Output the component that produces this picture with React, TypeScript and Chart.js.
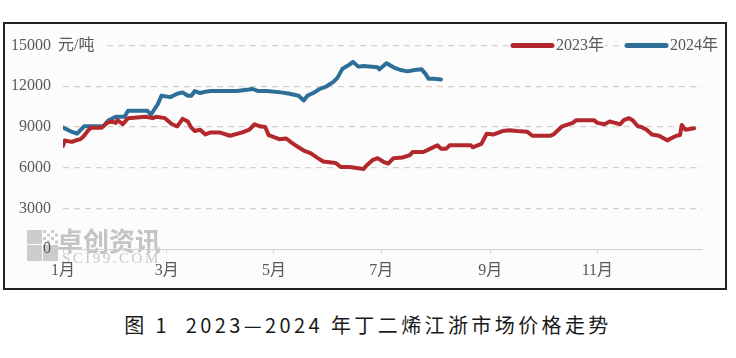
import React, { useEffect, useRef } from "react";
import { Chart, registerables } from "chart.js";

Chart.register(...registerables);

// ---- data ----
const monthTickDays = [0, 59, 120, 181, 243, 304];
const monthTickLabels = ["1月", "3月", "5月", "7月", "9月", "11月"];
const yTickValues = [0, 3000, 6000, 9000, 12000, 15000];
const seriesNames = ["2023年", "2024年"];
const unitLabel = "元/吨";
const captionText = "图 1  2023—2024 年丁二烯江浙市场价格走势";

const days2023 = [0, 1, 5, 7, 10, 12, 14, 16, 22, 25, 28, 30, 31, 34, 37, 47, 51, 53, 58, 62, 65, 68, 71, 73, 75, 78, 81, 84, 89, 95, 102, 106, 109, 112, 115, 117, 123, 127, 130, 134, 137, 141, 145, 148, 155, 158, 163, 171, 173, 176, 179, 182, 185, 188, 193, 197, 199, 205, 209, 213, 215, 218, 220, 232, 233, 238, 241, 245, 250, 254, 258, 264, 267, 277, 279, 284, 290, 292, 302, 304, 308, 311, 314, 317, 319, 322, 324, 327, 329, 332, 335, 339, 344, 345, 349, 351, 352, 354, 359];
const prices2023 = [7600, 8000, 7900, 8000, 8100, 8350, 8700, 8950, 8950, 9300, 9400, 9300, 9500, 9200, 9650, 9750, 9650, 9750, 9650, 9200, 9050, 9600, 9400, 8950, 8700, 8800, 8450, 8600, 8600, 8350, 8600, 8800, 9200, 9050, 9000, 8400, 8100, 8150, 7850, 7500, 7250, 7050, 6700, 6450, 6350, 6050, 6050, 5900, 6200, 6550, 6700, 6450, 6300, 6700, 6750, 6900, 7150, 7150, 7400, 7650, 7400, 7400, 7650, 7650, 7500, 7750, 8500, 8450, 8700, 8750, 8700, 8650, 8350, 8350, 8450, 9050, 9300, 9500, 9500, 9300, 9200, 9400, 9300, 9200, 9500, 9650, 9500, 9050, 9000, 8800, 8450, 8350, 8000, 8100, 8350, 8400, 9150, 8800, 8900];

const days2024 = [0, 4, 8, 12, 23, 26, 30, 35, 37, 48, 50, 54, 56, 61, 65, 68, 71, 73, 75, 78, 81, 84, 99, 108, 111, 116, 124, 129, 134, 137, 139, 143, 146, 150, 154, 156, 159, 163, 165, 168, 171, 179, 180, 184, 188, 192, 196, 200, 204, 206, 208, 211, 215];
const prices2024 = [8950, 8700, 8500, 9050, 9050, 9500, 9750, 9750, 10200, 10200, 9900, 10700, 11300, 11200, 11450, 11550, 11300, 11300, 11650, 11500, 11600, 11650, 11650, 11800, 11650, 11650, 11550, 11450, 11300, 10950, 11300, 11550, 11800, 12000, 12350, 12600, 13300, 13600, 13800, 13450, 13500, 13400, 13250, 13700, 13400, 13200, 13100, 13200, 13250, 12950, 12550, 12550, 12500];

const RED = "#b3282d";
const BLUE = "#2d6f98";
const TEXT = "#595959";
const BG = "#fcfcfc";
const SERIF = "'Liberation Serif', 'Noto Sans CJK SC', serif";

const toPoints = (xs: number[], ys: number[]) => xs.map((x, i) => ({ x, y: ys[i] }));

const decorPlugin = {
  id: "decor",
  beforeDraw(chart: any) {
    const ctx = chart.ctx;
    ctx.save();
    // watermark logo
    ctx.fillStyle = "#cccccc";
    ctx.fillRect(22, 206, 15, 14);
    ctx.fillRect(22, 221, 15, 16);
    ctx.fillRect(38, 221, 15, 16);
    for (let i = 0; i < 4; i++) {
      for (let j = 0; j < 4; j++) {
        if ((i + j) % 2 === 0) ctx.fillRect(38 + i * 4, 206 + j * 3.5, 3, 3);
      }
    }
    ctx.fillStyle = "#c4c4c4";
    ctx.font = "bold 26px 'Noto Sans CJK SC', sans-serif";
    ctx.textBaseline = "alphabetic";
    ctx.textAlign = "left";
    ctx.fillText("卓创资讯", 52, 227);
    ctx.fillStyle = "#c8c8c8";
    ctx.font = "15px " + SERIF;
    (ctx as any).letterSpacing = "2.5px";
    ctx.fillText("SCI99.COM", 57, 239);
    ctx.restore();
  },
  afterDraw(chart: any) {
    const ctx = chart.ctx;
    const area = chart.chartArea;
    const yTop = chart.scales.y.getPixelForValue(15000);
    ctx.save();
    ctx.font = "16px " + SERIF;
    ctx.textBaseline = "middle";
    ctx.textAlign = "left";
    // unit label
    ctx.fillStyle = BG;
    ctx.fillRect(area.left - 6, yTop - 9, 46, 18);
    ctx.fillStyle = TEXT;
    ctx.fillText(unitLabel, area.left - 5, yTop);
    // legend
    const items = [
      { name: seriesNames[0], color: RED, x0: 508 },
      { name: seriesNames[1], color: BLUE, x0: 622 },
    ];
    items.forEach((it) => {
      const w = ctx.measureText(it.name).width;
      ctx.fillStyle = BG;
      ctx.fillRect(it.x0 - 3, yTop - 9, 40 + 6 + w, 18);
      ctx.strokeStyle = it.color;
      ctx.lineWidth = 5;
      ctx.lineCap = "round";
      ctx.beginPath();
      ctx.moveTo(it.x0, yTop);
      ctx.lineTo(it.x0 + 39, yTop);
      ctx.stroke();
      ctx.fillStyle = TEXT;
      ctx.fillText(it.name, it.x0 + 43, yTop + 0.5);
    });
    ctx.restore();
  },
};

export default function App() {
  const ref = useRef<HTMLCanvasElement>(null);
  useEffect(() => {
    if (!ref.current) return;
    const chart = new Chart(ref.current, {
      type: "line",
      data: {
        datasets: [
          {
            label: seriesNames[0],
            data: toPoints(days2023, prices2023),
            borderColor: RED,
            backgroundColor: RED,
            borderWidth: 4,
            pointRadius: 0,
            tension: 0,
            borderJoinStyle: "round",
            borderCapStyle: "round",
          },
          {
            label: seriesNames[1],
            data: toPoints(days2024, prices2024),
            borderColor: BLUE,
            backgroundColor: BLUE,
            borderWidth: 4,
            pointRadius: 0,
            tension: 0,
            borderJoinStyle: "round",
            borderCapStyle: "round",
          },
        ],
      },
      options: {
        animation: false,
        responsive: false,
        maintainAspectRatio: false,
        layout: { padding: { top: 14, right: 23, left: 0, bottom: 0 } },
        plugins: { legend: { display: false }, tooltip: { enabled: false } },
        scales: {
          x: {
            type: "linear",
            min: 0,
            max: 363.5,
            afterBuildTicks: (axis: any) => {
              axis.ticks = monthTickDays.map((v) => ({ value: v }));
            },
            afterFit: (axis: any) => {
              axis.height = 39;
            },
            ticks: {
              autoSkip: false,
              maxRotation: 0,
              padding: 8,
              color: TEXT,
              font: { family: SERIF, size: 16 },
              callback: (v: any) => {
                const i = monthTickDays.indexOf(Number(v));
                return i >= 0 ? monthTickLabels[i] : "";
              },
            },
            grid: {
              drawOnChartArea: false,
              drawTicks: true,
              tickLength: 4,
              tickColor: "#cfcfcf",
            },
            border: { display: true, color: "#cfcfcf", width: 1 },
          },
          y: {
            min: 0,
            max: 15000,
            afterBuildTicks: (axis: any) => {
              axis.ticks = yTickValues.map((v) => ({ value: v }));
            },
            afterFit: (axis: any) => {
              axis.width = 58;
            },
            ticks: {
              padding: 12,
              color: TEXT,
              font: { family: SERIF, size: 16 },
              callback: (v: any) => String(v),
            },
            grid: {
              drawTicks: false,
              color: (c: any) => (c.tick && c.tick.value === 0 ? "rgba(0,0,0,0)" : "#d4d0cc"),
              lineWidth: 1.2,
            },
            border: { display: false, dash: [6, 5] },
          },
        },
      } as any,
      plugins: [decorPlugin],
    });
    return () => chart.destroy();
  }, []);

  return (
    <div style={{ position: "absolute", left: 0, top: 0, width: 736, height: 358, background: "#ffffff" }}>
      <div
        style={{
          position: "absolute",
          left: 3,
          top: 22,
          width: 720,
          height: 264,
          border: "2px solid #222222",
          background: BG,
        }}
      >
        <canvas ref={ref} width={720} height={264} style={{ display: "block", width: 720, height: 264 }} />
      </div>
      <div
        style={{
          position: "absolute",
          left: 0,
          top: 313,
          width: 736,
          textAlign: "center",
          fontFamily: "'Noto Sans CJK SC', sans-serif",
          fontSize: 20,
          lineHeight: "24px",
          letterSpacing: "3.4px",
          color: "#1a1a1a",
          whiteSpace: "pre",
        }}
      >
        {captionText}
      </div>
    </div>
  );
}
